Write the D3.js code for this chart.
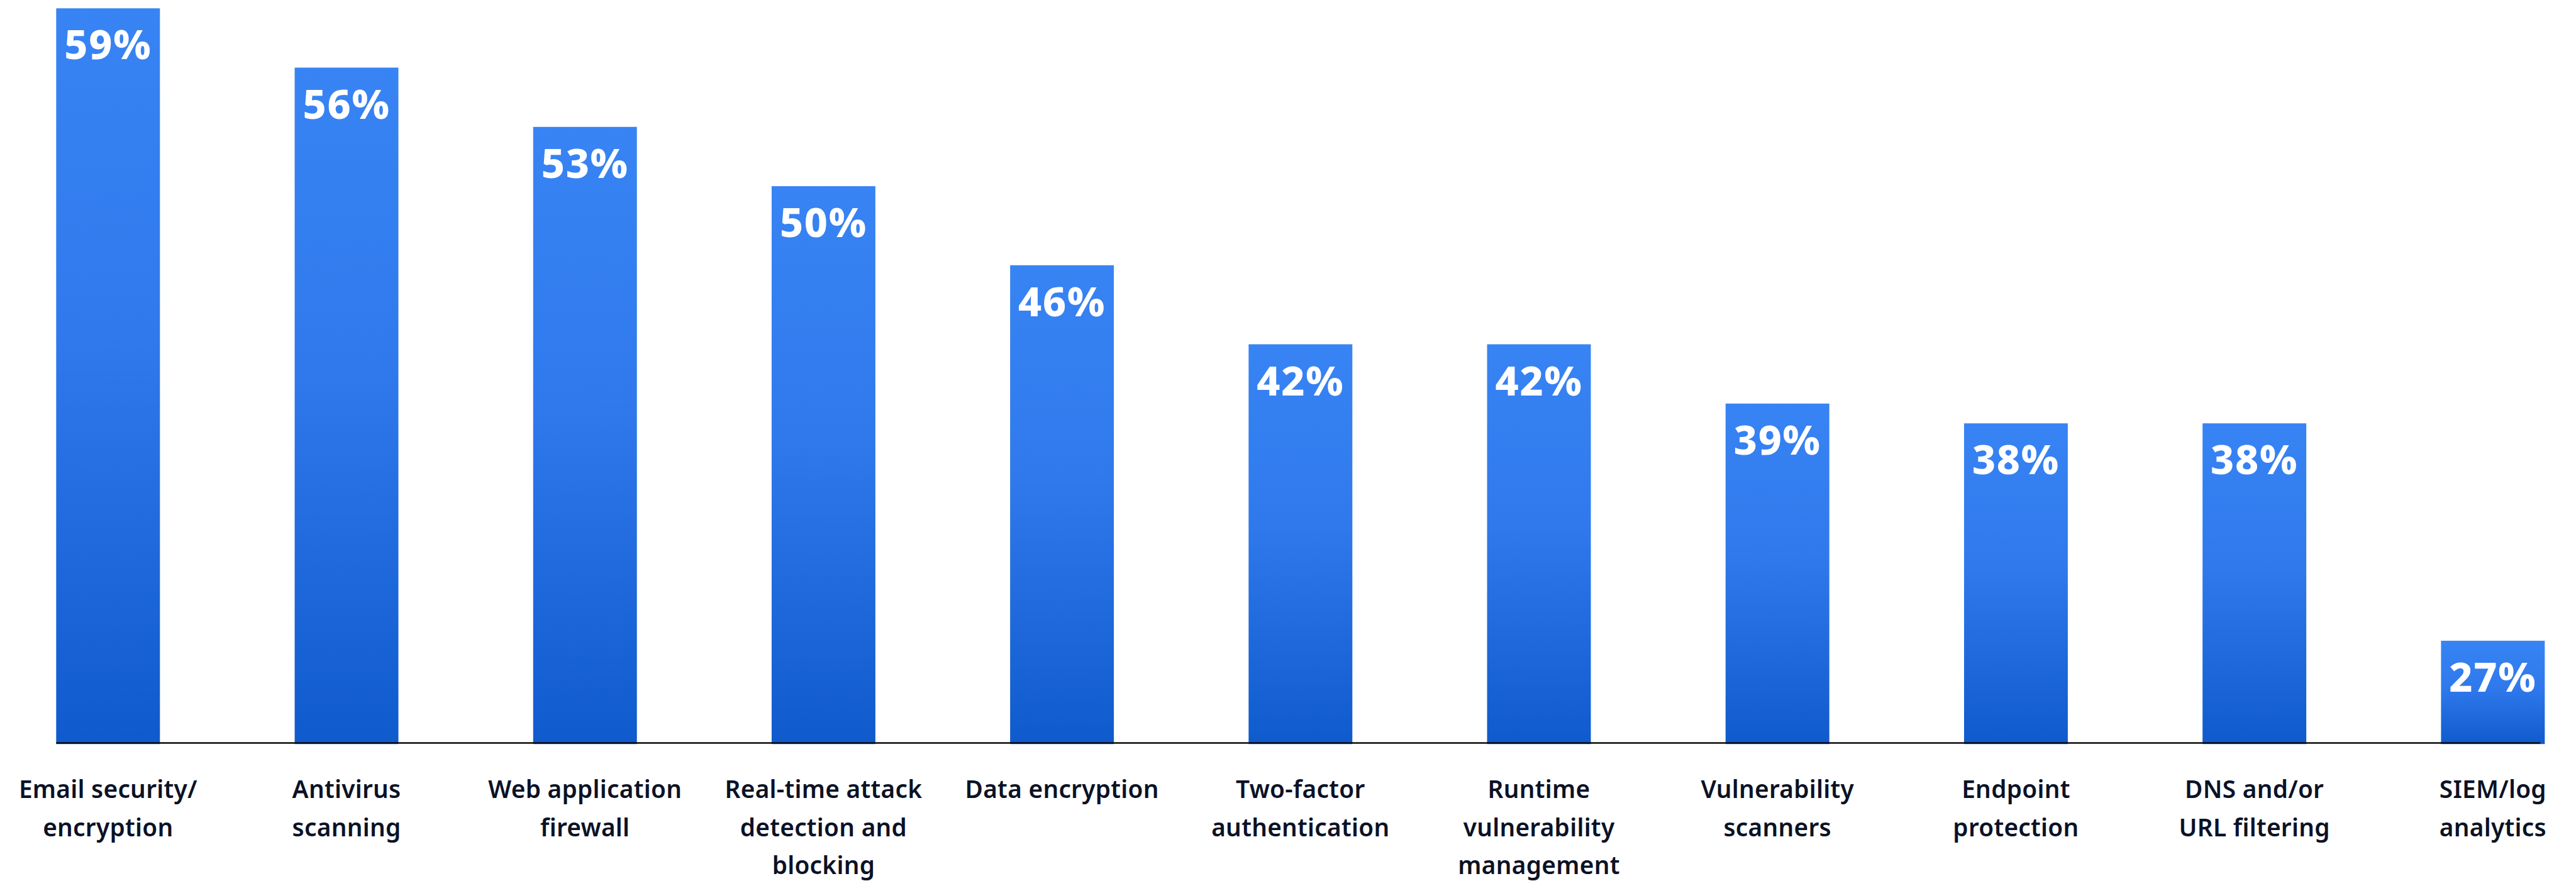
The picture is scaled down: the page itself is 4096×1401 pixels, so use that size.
<!DOCTYPE html>
<html>
<head>
<meta charset="utf-8">
<script src="https://cdn.jsdelivr.net/npm/d3@7"></script>
<style>
  html, body { margin: 0; padding: 0; background: #ffffff; overflow: hidden; }
  svg { display: block; }
</style>
</head>
<body>
<div id="chart"></div>
<script>
// Security tools in use, share of respondents (%)
const categories = [
  "Email security/\nencryption",
  "Antivirus\nscanning",
  "Web application\nfirewall",
  "Real-time attack\ndetection and\nblocking",
  "Data encryption",
  "Two-factor\nauthentication",
  "Runtime\nvulnerability\nmanagement",
  "Vulnerability\nscanners",
  "Endpoint\nprotection",
  "DNS and/or\nURL filtering",
  "SIEM/log\nanalytics"
];
const values = [59, 56, 53, 50, 46, 42, 42, 39, 38, 38, 27];
const valueLabels = ["59%", "56%", "53%", "50%", "46%", "42%", "42%", "39%", "38%", "38%", "27%"];

// Layout is laid out in a 4645 x 1589 coordinate space and scaled to the window.
const W = 4645, H = 1589;
const winW = window.innerWidth || 4096;
const winH = Math.round(winW * H / W);

const svg = d3.select("#chart").append("svg")
  .attr("width", winW)
  .attr("height", winH)
  .attr("viewBox", `0 0 ${W} ${H}`);

const baseline = 1341;

const x = d3.scaleBand()
  .domain(d3.range(categories.length))
  .range([101, 4589])
  .paddingInner(0.565)
  .paddingOuter(0);

const y = d3.scaleLinear()
  .domain([21.8, 59])
  .range([baseline, 15]);

// vertical blue gradient, per bar
const defs = svg.append("defs");
const grad = defs.append("linearGradient")
  .attr("id", "barFill")
  .attr("x1", 0).attr("y1", 0)
  .attr("x2", 0).attr("y2", 1);
grad.append("stop").attr("offset", "0%").attr("stop-color", "#3884f4");
grad.append("stop").attr("offset", "45%").attr("stop-color", "#2f79ec");
grad.append("stop").attr("offset", "100%").attr("stop-color", "#0f5acc");

svg.append("g").selectAll("rect")
  .data(values)
  .join("rect")
  .attr("x", (d, i) => x(i))
  .attr("y", d => y(d))
  .attr("width", x.bandwidth())
  .attr("height", d => baseline + 1 - y(d))
  .attr("fill", "url(#barFill)");

// baseline rule
svg.append("line")
  .attr("x1", 101).attr("x2", 4581)
  .attr("y1", baseline - 1).attr("y2", baseline - 1)
  .attr("stroke", "#0a0a0a")
  .attr("stroke-width", 3);

// value labels inside bars
svg.append("g").selectAll("text")
  .data(values)
  .join("text")
  .attr("x", (d, i) => x(i) + x.bandwidth() / 2)
  .attr("y", d => y(d) + 92)
  .attr("text-anchor", "middle")
  .attr("fill", "#ffffff")
  .attr("font-family", "'Noto Sans', 'Open Sans', sans-serif")
  .attr("font-weight", 800)
  .attr("font-size", 73)
  .attr("letter-spacing", 2)
  .text((d, i) => valueLabels[i]);

// category labels
const cat = svg.append("g").selectAll("text")
  .data(categories)
  .join("text")
  .attr("x", (d, i) => x(i) + x.bandwidth() / 2)
  .attr("y", 1439)
  .attr("text-anchor", "middle")
  .attr("fill", "#0b1226")
  .attr("font-family", "'Noto Sans', 'Open Sans', sans-serif")
  .attr("font-weight", 600)
  .attr("font-size", 44)
  .attr("letter-spacing", 0.3);

cat.each(function (d) {
  const t = d3.select(this);
  d.split("\n").forEach((line, k) => {
    t.append("tspan")
      .attr("x", t.attr("x"))
      .attr("dy", k === 0 ? 0 : 69)
      .text(line);
  });
});
</script>
</body>
</html>
